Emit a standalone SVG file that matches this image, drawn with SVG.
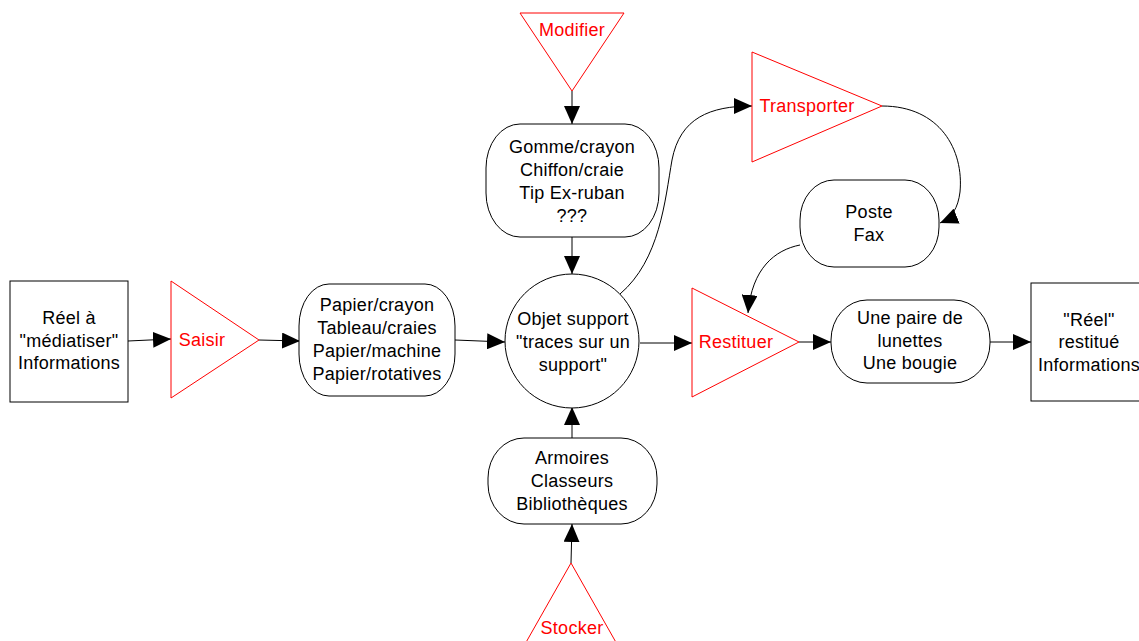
<svg xmlns="http://www.w3.org/2000/svg" width="1139" height="641" viewBox="0 0 1139 641">
<style>
.n{fill:#fff;stroke:#000;stroke-width:1}
.t{fill:#fff;stroke:#f00;stroke-width:1}
.l{font-family:"Liberation Sans",Arial,sans-serif;font-size:18px;letter-spacing:0.25px;fill:#000;text-anchor:middle}
.r{font-family:"Liberation Sans",Arial,sans-serif;font-size:18px;letter-spacing:0.25px;fill:#f00;text-anchor:middle}
.c{fill:none;stroke:#000;stroke-width:1;marker-end:url(#ah)}
</style>
<defs>
<marker id="ah" viewBox="0 0 18 16" refX="18" refY="8" markerWidth="18" markerHeight="16" orient="auto" markerUnits="userSpaceOnUse">
<path d="M0,0 L18,8 L0,16 Z" fill="#000"/>
</marker>
</defs>
<g id="connectors">
<path class="c" d="M128,341 L171,339"/>
<path class="c" d="M259,340 L300,341"/>
<path class="c" d="M455,340 L505,342"/>
<path class="c" d="M572,91 L572,124"/>
<path class="c" d="M572,237 L572,274"/>
<path class="c" d="M572,438 L572,407"/>
<path class="c" d="M571,563 L572,524"/>
<path class="c" d="M620,294 C660,260 665,200 672,160 C680,118 710,106 752,106"/>
<path class="c" d="M882,106 C940,106 964,150 960,192 C958,208 952,218 940,223"/>
<path class="c" d="M800,245 C775,250 752,268 748,313"/>
<path class="c" d="M640,343 L692,343"/>
<path class="c" d="M799,342 L831,342"/>
<path class="c" d="M990,342 L1031,342"/>
</g>
<g id="reel">
<rect class="n" x="10" y="281" width="118" height="121"/>
<text class="l"><tspan x="69" y="324">Réel à</tspan><tspan x="69" y="347">"médiatiser"</tspan><tspan x="69" y="369">Informations</tspan></text>
</g>
<g id="saisir">
<polygon class="t" points="171,281 171,398 259,340"/>
<text class="r" x="202" y="346">Saisir</text>
</g>
<g id="papier">
<rect class="n" x="299" y="284" width="156" height="112" rx="30" ry="42"/>
<text class="l"><tspan x="377" y="311">Papier/crayon</tspan><tspan x="377" y="334">Tableau/craies</tspan><tspan x="377" y="357">Papier/machine</tspan><tspan x="377" y="380">Papier/rotatives</tspan></text>
</g>
<g id="objet">
<circle class="n" cx="572" cy="341" r="67"/>
<text class="l"><tspan x="573" y="325">Objet support</tspan><tspan x="573" y="348">"traces sur un</tspan><tspan x="573" y="371">support"</tspan></text>
</g>
<g id="modifier">
<polygon class="t" points="520,13 624,13 572,91"/>
<text class="r" x="572" y="36">Modifier</text>
</g>
<g id="gomme">
<rect class="n" x="486" y="124" width="173" height="113" rx="34" ry="44"/>
<text class="l"><tspan x="572" y="153">Gomme/crayon</tspan><tspan x="572" y="176">Chiffon/craie</tspan><tspan x="572" y="199">Tip Ex-ruban</tspan><tspan x="572" y="222">???</tspan></text>
</g>
<g id="armoires">
<rect class="n" x="488" y="438" width="169" height="86" rx="36" ry="40"/>
<text class="l"><tspan x="572" y="464">Armoires</tspan><tspan x="572" y="487">Classeurs</tspan><tspan x="572" y="510">Bibliothèques</tspan></text>
</g>
<g id="stocker">
<polygon class="t" points="571,563 516,660 626,660"/>
<text class="r" x="572" y="634">Stocker</text>
</g>
<g id="transporter">
<polygon class="t" points="752,52 752,162 882,106"/>
<text class="r" x="807" y="112">Transporter</text>
</g>
<g id="poste">
<rect class="n" x="800" y="180" width="139" height="87" rx="34" ry="40"/>
<text class="l"><tspan x="869" y="218">Poste</tspan><tspan x="869" y="241">Fax</tspan></text>
</g>
<g id="restituer">
<polygon class="t" points="692,288 692,397 799,342"/>
<text class="r" x="736" y="348">Restituer</text>
</g>
<g id="paire">
<rect class="n" x="831" y="300" width="159" height="83" rx="36" ry="40"/>
<text class="l"><tspan x="910" y="324">Une paire de</tspan><tspan x="910" y="347">lunettes</tspan><tspan x="910" y="369">Une bougie</tspan></text>
</g>
<g id="restitue">
<rect class="n" x="1031" y="283" width="130" height="118"/>
<text class="l"><tspan x="1089" y="326">"Réel"</tspan><tspan x="1089" y="348">restitué</tspan><tspan x="1089" y="371">Informations</tspan></text>
</g>
</svg>
